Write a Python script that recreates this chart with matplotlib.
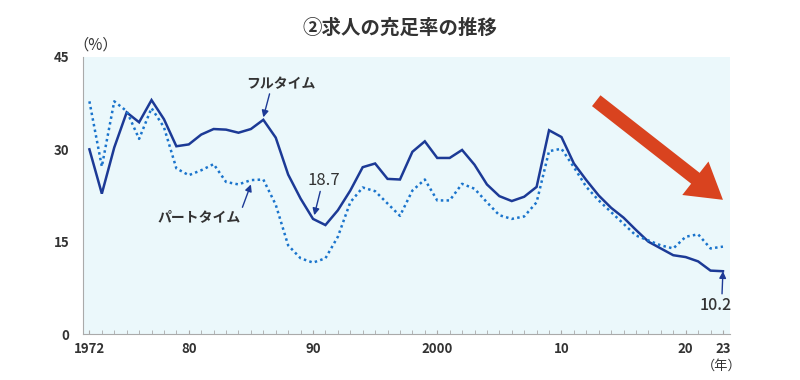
import numpy as np
import matplotlib
matplotlib.use("Agg")
import matplotlib.pyplot as plt

plt.rcParams['font.family'] = ['Noto Sans CJK JP', 'DejaVu Sans']

years = np.arange(1972, 2024)
fulltime = [30.0, 22.8, 30.3, 36.0, 34.4, 38.0, 34.9, 30.5, 30.8, 32.4,
            33.3, 33.2, 32.7, 33.3, 34.8, 31.9, 25.9, 22.0, 18.7, 17.7,
            20.1, 23.3, 27.1, 27.7, 25.2, 25.1, 29.6, 31.3, 28.6, 28.6,
            29.9, 27.5, 24.3, 22.4, 21.6, 22.3, 23.9, 33.1, 32.0, 27.7,
            25.0, 22.5, 20.5, 18.9, 16.9, 15.0, 13.9, 12.8, 12.5, 11.8,
            10.3, 10.2]
parttime = [37.8, 27.2, 37.8, 36.2, 31.7, 36.7, 33.6, 26.9, 25.8, 26.6,
            27.6, 24.7, 24.3, 25.0, 25.1, 21.0, 14.4, 12.3, 11.6, 12.3,
            15.8, 21.4, 23.8, 23.2, 21.2, 19.2, 23.3, 25.1, 21.7, 21.7,
            24.4, 23.6, 21.4, 19.3, 18.7, 19.1, 21.4, 29.7, 30.1, 27.1,
            23.9, 21.7, 19.8, 17.9, 16.0, 15.2, 14.4, 13.9, 15.8, 16.2,
            13.9, 14.2]
tick_years = [1972, 1980, 1990, 2000, 2010, 2020, 2023]
tick_labels = ["1972", "80", "90", "2000", "10", "20", "23"]
y_ticks = [0, 15, 30, 45]

full_col = "#1c3a96"
part_col = "#1a74cc"
txt_col = "#333333"

fig = plt.figure(figsize=(8, 3.8), dpi=100)
ax = fig.add_axes([0.104, 0.121, 0.809, 0.729])
ax.set_facecolor("#ebf8fb")

ax.plot(years, fulltime, color=full_col, lw=1.8, solid_joinstyle='miter')
ax.plot(years, parttime, color=part_col, lw=1.8, linestyle=(0, (1, 1.3)))

ax.set_xlim(1971.5, 2023.6)
ax.set_ylim(0, 45)
ax.set_xticks(tick_years)
ax.set_xticklabels(tick_labels)
ax.set_xticks(years, minor=True)
ax.set_yticks(y_ticks)
ax.tick_params(axis='x', which='both', direction='in', length=3, color="#aaaaaa",
               labelsize=9.5, labelcolor=txt_col, pad=6)
ax.tick_params(axis='y', length=0, labelsize=9.5, labelcolor=txt_col, pad=10)
for lbl in ax.get_xticklabels() + ax.get_yticklabels():
    lbl.set_fontweight('bold')
for s in ['top', 'right']:
    ax.spines[s].set_visible(False)
for s in ['left', 'bottom']:
    ax.spines[s].set_color("#aaaaaa")
    ax.spines[s].set_linewidth(0.8)

arw = dict(arrowstyle='-|>', color=full_col, lw=1, mutation_scale=10, shrinkA=0, shrinkB=0)
ax.annotate("フルタイム", xy=(1986.0, 35.2), xytext=(1987.4, 40.6),
            ha='center', va='center', fontsize=10, fontweight='bold', color=txt_col,
            arrowprops=dict(arw, relpos=(0.35, 0)))
ax.annotate("パートタイム", xy=(1985.0, 24.3), xytext=(1980.8, 19.0),
            ha='center', va='center', fontsize=10, fontweight='bold', color=txt_col,
            arrowprops=dict(arw, relpos=(1.0, 0.8)))
ax.annotate("18.7", xy=(1990.1, 19.3), xytext=(1990.9, 25.0),
            ha='center', va='center', fontsize=12, color=txt_col,
            arrowprops=dict(arw, relpos=(0.4, 0)))
ax.annotate("10.2", xy=(2023.0, 10.2), xytext=(2022.4, 4.7),
            ha='center', va='center', fontsize=11.5, fontweight='medium', color=txt_col,
            arrowprops=dict(arw, relpos=(0.7, 1)))

# trend arrow
ax.annotate("", xy=(2023.0, 21.8), xytext=(2012.8, 37.9),
            arrowprops=dict(arrowstyle='simple,head_length=1.4,head_width=1.7,tail_width=0.55',
                            color="#d9431f", lw=0, mutation_scale=18, shrinkA=0, shrinkB=0))

fig.text(0.12, 0.882, "（%）", ha='center', va='center', fontsize=11, color=txt_col)
fig.text(0.902, 0.035, "（年）", ha='center', va='center', fontsize=9.5, color=txt_col)
fig.text(0.5, 0.925, "②求人の充足率の推移", ha='center', va='center', fontsize=14,
         fontweight='bold', color=txt_col)

fig.savefig("out.png", dpi=100, facecolor="white")
